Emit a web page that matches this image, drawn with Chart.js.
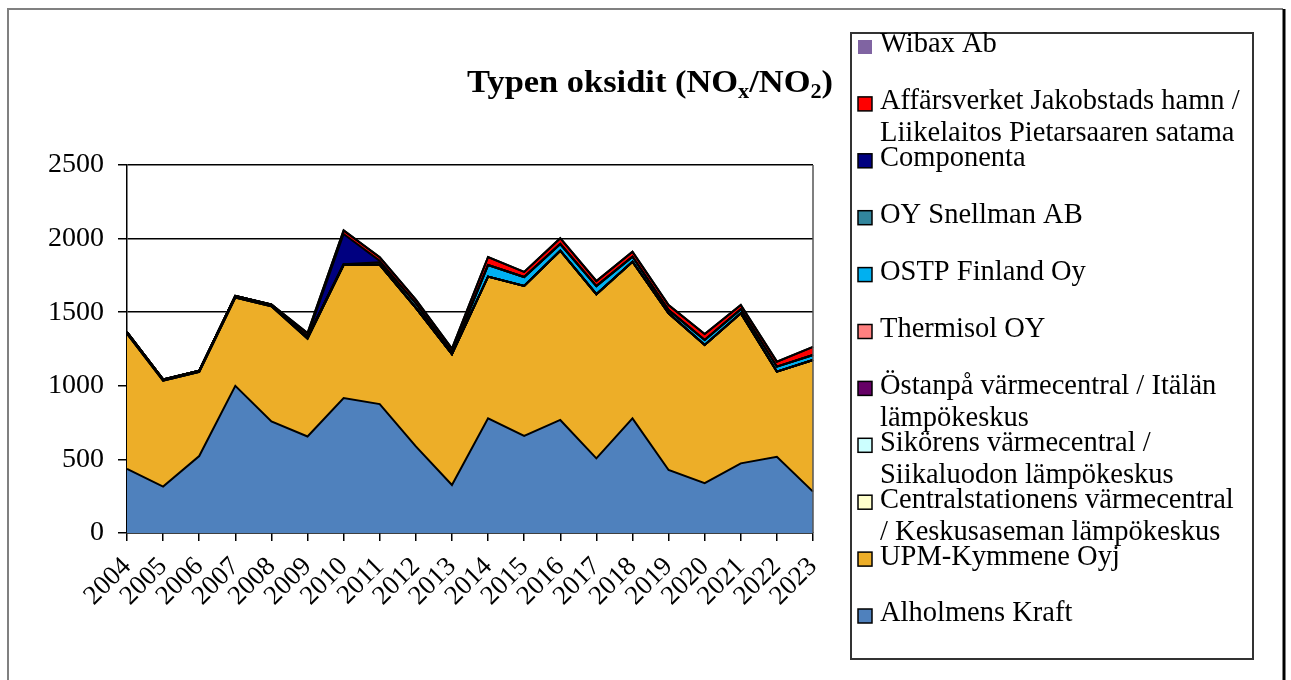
<!DOCTYPE html>
<html>
<head>
<meta charset="utf-8">
<script src="https://cdn.jsdelivr.net/npm/chart.js@4"></script>
<style>
  html, body { margin: 0; padding: 0; background: #fff; }
  #wrap { position: relative; width: 1291px; height: 680px; }
</style>
</head>
<body>
<div id="wrap"><canvas id="chart" width="1291" height="680"></canvas></div>
<script>
const years = ["2004", "2005", "2006", "2007", "2008", "2009", "2010", "2011", "2012", "2013",
  "2014", "2015", "2016", "2017", "2018", "2019", "2020", "2021", "2022", "2023"]

// stacked bottom -> top
const alholmens = [435, 315, 523, 1000, 758, 656, 917, 876, 588, 326, 779, 659, 768, 507, 779, 428, 338, 473, 518, 281]
const upm = [920, 720, 572, 600, 782, 664, 904, 945, 942, 889, 963, 1020, 1150, 1115, 1064, 1065, 939, 1020, 578, 894]
const centralstationen = [0, 0, 0, 0, 0, 0, 0, 0, 0, 0, 0, 0, 0, 0, 0, 0, 0, 0, 0, 0]
const sikoren = [0, 0, 0, 0, 0, 0, 0, 0, 0, 0, 0, 0, 0, 0, 0, 0, 0, 0, 0, 0]
const ostanpa = [10, 8, 8, 10, 12, 10, 5, 3, 0, 0, 0, 0, 0, 0, 0, 0, 0, 0, 0, 0]
const thermisol = [0, 0, 0, 0, 0, 0, 0, 0, 0, 0, 0, 0, 0, 0, 0, 0, 0, 0, 0, 0]
const ostp = [0, 0, 0, 0, 0, 0, 0, 0, 0, 0, 78, 60, 45, 55, 34, 22, 34, 27, 34, 34]
const snellman = [0, 0, 0, 0, 0, 0, 0, 15, 30, 12, 0, 0, 0, 0, 0, 0, 0, 0, 0, 0]
const componenta = [0, 0, 0, 0, 0, 8, 205, 10, 0, 0, 0, 0, 0, 0, 0, 0, 0, 0, 0, 0]
const affarsverket = [0, 0, 0, 0, 0, 20, 25, 25, 25, 25, 55, 35, 40, 35, 34, 34, 41, 29, 34, 55]
const wibax = [0, 0, 0, 0, 0, 0, 0, 0, 0, 0, 0, 0, 0, 0, 0, 0, 0, 0, 0, 0]

const seriesNames = [
  ["Alholmens Kraft"],
  ["UPM-Kymmene Oyj"],
  ["Centralstationens värmecentral", "/ Keskusaseman lämpökeskus"],
  ["Sikörens värmecentral /", "Siikaluodon lämpökeskus"],
  ["Östanpå värmecentral / Itälän", "lämpökeskus"],
  ["Thermisol OY"],
  ["OSTP Finland Oy"],
  ["OY Snellman AB"],
  ["Componenta"],
  ["Affärsverket Jakobstads hamn /", "Liikelaitos Pietarsaaren satama"],
  ["Wibax Ab"]
]
const seriesData = [alholmens, upm, centralstationen, sikoren, ostanpa, thermisol, ostp, snellman, componenta, affarsverket, wibax]
const seriesColors = ["#4F81BD", "#EDAE28", "#FFFFCC", "#CCFFFF", "#660066", "#FF8080", "#00B0F0", "#31859C", "#000080", "#FF0000", "#8064A2"]

const serif = "'Liberation Serif', 'Times New Roman', serif"

const framePlugin = {
  id: "frame",
  beforeDraw(chart) {
    const ctx = chart.ctx
    ctx.save()
    ctx.fillStyle = "#fff"
    ctx.fillRect(0, 0, chart.width, chart.height)
    ctx.strokeStyle = "#808080"
    ctx.lineWidth = 2
    ctx.beginPath()
    ctx.moveTo(8, 690)
    ctx.lineTo(8, 9)
    ctx.lineTo(1283, 9)
    ctx.stroke()
    ctx.strokeStyle = "#000"
    ctx.lineWidth = 3
    ctx.beginPath()
    ctx.moveTo(1284, 9)
    ctx.lineTo(1284, 690)
    ctx.stroke()
    ctx.restore()
  },
  afterDraw(chart) {
    const ctx = chart.ctx
    const a = chart.chartArea
    ctx.save()

    // plot area right edge
    ctx.strokeStyle = "#555"
    ctx.lineWidth = 1.5
    ctx.beginPath()
    ctx.moveTo(a.right, a.top)
    ctx.lineTo(a.right, a.bottom)
    ctx.stroke()

    // title with subscripts
    const parts = [
      ["Typen oksidit (NO", false], ["x", true], ["/NO", false], ["2", true], [")", false]
    ]
    const big = "bold 31px " + serif
    const small = "bold 20px " + serif
    let w = 0
    parts.forEach(p => { ctx.font = p[1] ? small : big; w += ctx.measureText(p[0]).width })
    const sx = 366 / w
    ctx.translate(467, 0)
    ctx.scale(sx, 1)
    let x = 0
    ctx.fillStyle = "#000"
    ctx.textBaseline = "alphabetic"
    parts.forEach(p => {
      ctx.font = p[1] ? small : big
      ctx.fillText(p[0], x, p[1] ? 98 : 92)
      x += ctx.measureText(p[0]).width
    })
    ctx.setTransform(1, 0, 0, 1, 0, 0)

    // legend
    ctx.strokeStyle = "#333"
    ctx.lineWidth = 2
    ctx.strokeRect(851, 33, 402, 626)
    ctx.font = "28.5px " + serif
    ctx.textBaseline = "middle"
    const n = seriesNames.length
    for (let k = 0; k < n; k++) {
      const i = n - 1 - k
      const y = 45 + k * 56.9
      ctx.fillStyle = seriesColors[i]
      ctx.fillRect(858, y - 5, 14, 14)
      if (i !== n - 1) {
        ctx.strokeStyle = "#000"
        ctx.lineWidth = 1.5
        ctx.strokeRect(858, y - 5, 14, 14)
      }
      ctx.fillStyle = "#000"
      seriesNames[i].forEach((line, j) => ctx.fillText(line, 880, y + j * 32))
    }
    ctx.restore()
  }
}

new Chart("chart", {
  type: "line",
  data: {
    labels: years,
    datasets: seriesData.map((d, i) => ({
      label: seriesNames[i].join(" "),
      data: d,
      backgroundColor: seriesColors[i],
      borderColor: "#000",
      borderWidth: 2,
      pointRadius: 0,
      tension: 0,
      fill: i === 0 ? "origin" : "-1"
    }))
  },
  options: {
    responsive: false,
    animation: false,
    layout: {
      padding: { top: 165, right: 478, left: 0, bottom: 0 }
    },
    scales: {
      x: {
        grid: { drawOnChartArea: false, tickLength: 8, color: "#000", lineWidth: 1.5 },
        border: { color: "#000", width: 1.5 },
        ticks: {
          autoSkip: false,
          maxRotation: 45,
          minRotation: 45,
          padding: 10,
          color: "#000",
          font: { family: serif, size: 27 }
        },
        afterFit: s => { s.height = 147 }
      },
      y: {
        stacked: true,
        min: 0,
        max: 2500,
        grid: { color: "#000", lineWidth: 1.5, tickLength: 9 },
        border: { color: "#000", width: 1.5 },
        ticks: {
          stepSize: 500,
          padding: 14,
          color: "#000",
          font: { family: serif, size: 28 },
          callback: v => String(v)
        },
        afterFit: s => { s.width = 127 }
      }
    },
    plugins: {
      legend: { display: false },
      tooltip: { enabled: false },
      filler: { drawTime: "beforeDatasetsDraw" }
    }
  },
  plugins: [framePlugin]
})
</script>
</body>
</html>
